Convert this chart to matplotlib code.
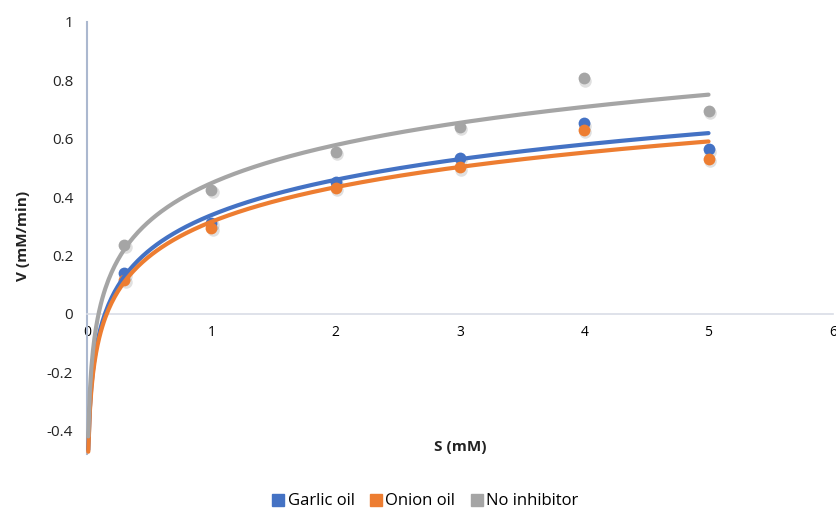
import numpy as np
import matplotlib
matplotlib.use("Agg")
import matplotlib.pyplot as plt
from matplotlib.lines import Line2D

# substrate concentration (mM) and rates (mM/min)
s_mm = [0.3, 1, 2, 3, 4, 5]
v_garlic = [0.139, 0.312, 0.452, 0.535, 0.653, 0.564]
v_onion = [0.116, 0.295, 0.432, 0.502, 0.630, 0.530]
v_none = [0.236, 0.425, 0.556, 0.641, 0.807, 0.696]

series_names = ["Garlic oil", "Onion oil", "No inhibitor"]
colors = ["#4472C4", "#ED7D31", "#A5A5A5"]

x_ticks = [0, 1, 2, 3, 4, 5, 6]
y_ticks = [-0.4, -0.2, 0, 0.2, 0.4, 0.6, 0.8, 1]

plt.rcParams["font.family"] = ["Open Sans", "DejaVu Sans"]

fig = plt.figure(figsize=(8.37, 5.08), dpi=100)
ax = fig.add_axes([0.104, 0.106, 0.891, 0.851])

xs = np.array(s_mm, dtype=float)
x_fit = np.linspace(0.01, 5, 400)
for name, ys, c in zip(series_names, [v_garlic, v_onion, v_none], colors):
    # soft drop shadow under the markers, like the Excel default style
    ax.plot(xs + 0.01, np.array(ys) - 0.008, "o", ms=9, color="black",
            alpha=0.12, mec="none", zorder=1)
    ax.plot(xs, ys, "o", ms=8.5, color=c, mec="none", zorder=2)
    # logarithmic trendline, fitted as Excel does: v = a ln(S) + b
    a, b = np.polyfit(np.log(xs), ys, 1)
    ax.plot(x_fit, a * np.log(x_fit) + b, "-", color=c, lw=3,
            solid_capstyle="round", zorder=3, clip_on=False)

ax.set_xlim(0, 6)
ax.set_ylim(-0.48, 1)
ax.set_xticks(x_ticks)
ax.set_yticks(y_ticks)
ax.set_xticklabels([str(t) for t in x_ticks], fontsize=11, color="#222222")
ax.set_yticklabels(["-0.4", "-0.2", "0", "0.2", "0.4", "0.6", "0.8", "1"],
                   fontsize=11, color="#222222")
ax.tick_params(length=0, pad=10)
ax.tick_params(axis="x", pad=8)

for side in ["top", "right"]:
    ax.spines[side].set_visible(False)
ax.spines["bottom"].set_position(("data", 0))
ax.spines["bottom"].set_color("#D9DDE6")
ax.spines["bottom"].set_linewidth(1.2)
ax.spines["left"].set_color("#ABB8CF")
ax.spines["left"].set_linewidth(1.5)

fig.text(0.027, 0.535, "V (mM/min)", rotation=90, ha="center", va="center",
         fontsize=11, fontweight="bold", color="#222222")
fig.text(0.55, 0.12, "S (mM)", ha="center", va="center",
         fontsize=11, fontweight="bold", color="#222222")

handles = [Line2D([], [], marker="s", ls="none", color=c, ms=8) for c in colors]
fig.legend(handles, series_names, loc="center", bbox_to_anchor=(0.508, 0.013),
           ncol=3, frameon=False, fontsize=12, handletextpad=0.15,
           columnspacing=0.9, handlelength=0.8)

fig.savefig("out.png", dpi=100)
